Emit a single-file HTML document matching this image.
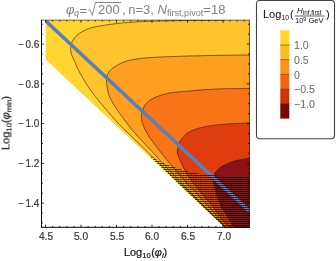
<!DOCTYPE html><html><head><meta charset="utf-8"><style>

html,body{margin:0;padding:0;background:#fff;}
body{width:336px;height:261px;position:relative;overflow:hidden;font-family:"Liberation Sans",sans-serif;}
.t{position:absolute;white-space:nowrap;line-height:1;will-change:transform;}
.tk{font-size:10.2px;color:#383838;-webkit-text-stroke:0.2px #383838;}
.lg{font-size:10.6px;color:#666;}
.ti{font-size:13px;color:#808080;}
i{font-style:italic;}
.sub{font-size:70%;position:relative;top:0.22em;}

</style></head><body>
<svg width="336" height="261" viewBox="0 0 336 261" style="position:absolute;left:0;top:0">
<defs>
<clipPath id="dom"><polygon points="45.70,20.10 249.80,20.10 249.80,227.80 225.00,227.80 45.70,59.40"/></clipPath>
<clipPath id="hat"><polygon points="149,155.5 160,161.5 166,164.3 177.4,168.3 187.4,171.4 199,173.8 219.5,175.8 221,176.8 249.8,176.8 249.8,228 224,228"/></clipPath>
<pattern id="hp" width="5" height="2" patternUnits="userSpaceOnUse"><rect x="0" y="1" width="5" height="1" fill="#000" fill-opacity="0.38"/><rect x="0" y="1" width="1.8" height="1" fill="#000" fill-opacity="0.64"/><rect x="2.5" y="1" width="1.8" height="1" fill="#000" fill-opacity="0.64"/></pattern>
</defs>
<g clip-path="url(#dom)">
<rect x="40" y="15" width="215" height="215" fill="#FFD532"/>
<path d="M225.00,20.10 C218.33,20.17 195.00,20.37 185.00,20.50 C175.00,20.63 170.83,20.77 165.00,20.90 C159.17,21.03 154.17,21.17 150.00,21.30 C145.83,21.43 143.33,21.53 140.00,21.70 C136.67,21.87 133.33,22.05 130.00,22.30 C126.67,22.55 123.33,22.85 120.00,23.20 C116.67,23.55 113.33,23.93 110.00,24.40 C106.67,24.87 102.83,25.50 100.00,26.00 C97.17,26.50 95.02,26.90 93.00,27.40 C90.98,27.90 90.10,28.07 87.90,29.00 C85.70,29.93 82.02,31.53 79.80,33.00 C77.58,34.47 75.97,36.13 74.60,37.80 C73.23,39.47 72.27,41.09 71.60,43.00 C70.93,44.91 70.55,47.17 70.60,49.25 C70.65,51.33 71.13,53.24 71.90,55.50 C72.67,57.76 74.03,60.22 75.20,62.80 C76.37,65.38 76.77,67.04 78.90,71.00 C81.03,74.96 84.98,81.97 88.00,86.55 C91.02,91.13 94.33,95.07 97.00,98.49 C99.67,101.90 101.50,104.07 104.00,107.05 C106.50,110.02 109.50,113.50 112.00,116.35 C114.50,119.19 116.67,121.65 119.00,124.11 C121.33,126.56 123.33,128.45 126.00,131.07 C128.67,133.69 131.83,136.74 135.00,139.81 C138.17,142.87 141.67,146.24 145.00,149.48 C148.33,152.72 150.83,155.18 155.00,159.25 C159.17,163.33 164.17,168.21 170.00,173.91 C175.83,179.62 183.33,187.00 190.00,193.46 C196.67,199.93 204.00,206.93 210.00,212.71 C216.00,218.48 223.33,225.54 226.00,228.11 L256.00,268.11 L400,400 L400,-50 L225.00,-50 Z" fill="#FFC32D" stroke="none"/>
<path d="M249.80,55.00 C244.00,55.07 226.63,55.18 215.00,55.40 C203.37,55.62 190.55,55.95 180.00,56.30 C169.45,56.65 158.87,57.05 151.70,57.50 C144.53,57.95 141.17,58.40 137.00,59.00 C132.83,59.60 129.73,60.20 126.70,61.10 C123.67,62.00 121.33,63.05 118.80,64.40 C116.27,65.75 113.37,67.52 111.50,69.20 C109.63,70.88 108.43,72.58 107.60,74.50 C106.77,76.42 106.55,78.47 106.50,80.70 C106.45,82.93 106.87,85.41 107.30,87.90 C107.73,90.39 108.15,93.05 109.10,95.63 C110.05,98.21 111.22,100.40 113.00,103.38 C114.78,106.37 117.98,110.94 119.80,113.56 C121.62,116.18 122.52,117.22 123.90,119.10 C125.28,120.98 126.92,123.26 128.10,124.84 C129.28,126.41 128.92,126.14 131.00,128.56 C133.08,130.98 137.92,136.41 140.60,139.36 C143.28,142.30 144.62,143.59 147.10,146.25 C149.58,148.91 153.02,152.59 155.50,155.32 C157.98,158.05 159.58,159.98 162.00,162.61 C164.42,165.25 167.00,167.94 170.00,171.11 C173.00,174.29 176.67,178.20 180.00,181.69 C183.33,185.18 186.67,188.67 190.00,192.06 C193.33,195.45 196.67,198.71 200.00,202.03 C203.33,205.36 205.50,207.56 210.00,212.01 C214.50,216.46 224.17,225.95 227.00,228.74 L257.00,268.74 L400,400 L400,-50 L249.80,-50 Z" fill="#FF9F21" stroke="none"/>
<path d="M249.80,88.40 C244.00,88.52 226.63,88.53 215.00,89.10 C203.37,89.67 188.12,91.02 180.00,91.80 C171.88,92.58 170.28,92.90 166.25,93.80 C162.22,94.70 158.76,95.95 155.80,97.20 C152.84,98.45 150.55,99.57 148.50,101.30 C146.45,103.03 144.68,105.32 143.50,107.60 C142.32,109.88 141.68,112.85 141.40,115.00 C141.12,117.15 141.45,118.67 141.80,120.50 C142.15,122.33 142.80,124.17 143.50,126.00 C144.20,127.83 145.08,129.75 146.00,131.50 C146.92,133.25 147.92,134.83 149.00,136.50 C150.08,138.17 151.42,140.00 152.50,141.50 C153.58,143.00 153.62,143.05 155.50,145.50 C157.38,147.95 161.42,153.22 163.80,156.20 C166.18,159.18 167.10,160.18 169.80,163.40 C172.50,166.62 176.63,171.65 180.00,175.50 C183.37,179.35 187.33,183.67 190.00,186.50 C192.67,189.33 193.83,190.17 196.00,192.50 C198.17,194.83 200.33,197.58 203.00,200.50 C205.67,203.42 209.33,206.85 212.00,210.00 C214.67,213.15 216.75,216.40 219.00,219.40 C221.25,222.40 224.42,226.57 225.50,228.00 L255.50,268.00 L400,400 L400,-50 L249.80,-50 Z" fill="#F87417" stroke="none"/>
<path d="M249.80,122.90 C245.60,123.12 232.28,123.52 224.60,124.20 C216.92,124.88 209.67,125.67 203.70,127.00 C197.73,128.33 192.70,129.87 188.80,132.20 C184.90,134.53 182.20,137.95 180.30,141.00 C178.40,144.05 177.75,148.08 177.40,150.50 C177.05,152.92 177.73,153.83 178.20,155.50 C178.67,157.17 179.38,158.62 180.20,160.50 C181.02,162.38 181.82,164.35 183.10,166.80 C184.38,169.25 186.10,172.40 187.90,175.20 C189.70,178.00 191.92,180.97 193.90,183.60 C195.88,186.23 197.95,188.68 199.80,191.00 C201.65,193.32 202.88,195.03 205.00,197.50 C207.12,199.97 210.27,203.00 212.50,205.80 C214.73,208.60 216.35,211.43 218.40,214.30 C220.45,217.17 222.98,220.72 224.80,223.00 C226.62,225.28 228.55,227.17 229.30,228.00 L259.30,268.00 L400,400 L400,-50 L249.80,-50 Z" fill="#E03D0E" stroke="none"/>
<path d="M249.80,158.00 C247.80,158.38 241.18,159.52 237.80,160.30 C234.42,161.08 232.08,161.72 229.50,162.70 C226.92,163.68 224.28,165.02 222.30,166.20 C220.32,167.38 218.88,168.50 217.60,169.80 C216.32,171.10 215.28,172.63 214.60,174.00 C213.92,175.37 213.62,176.58 213.50,178.00 C213.38,179.42 213.62,180.53 213.90,182.50 C214.18,184.47 214.62,187.47 215.20,189.80 C215.78,192.13 216.27,193.55 217.40,196.50 C218.53,199.45 220.27,204.08 222.00,207.50 C223.73,210.92 225.80,213.58 227.80,217.00 C229.80,220.42 232.97,226.17 234.00,228.00 L264.00,268.00 L400,400 L400,-50 L249.80,-50 Z" fill="#8A1216" stroke="none"/>
<path d="M225.00,20.10 C218.33,20.17 195.00,20.37 185.00,20.50 C175.00,20.63 170.83,20.77 165.00,20.90 C159.17,21.03 154.17,21.17 150.00,21.30 C145.83,21.43 143.33,21.53 140.00,21.70 C136.67,21.87 133.33,22.05 130.00,22.30 C126.67,22.55 123.33,22.85 120.00,23.20 C116.67,23.55 113.33,23.93 110.00,24.40 C106.67,24.87 102.83,25.50 100.00,26.00 C97.17,26.50 95.02,26.90 93.00,27.40 C90.98,27.90 90.10,28.07 87.90,29.00 C85.70,29.93 82.02,31.53 79.80,33.00 C77.58,34.47 75.97,36.13 74.60,37.80 C73.23,39.47 72.27,41.09 71.60,43.00 C70.93,44.91 70.55,47.17 70.60,49.25 C70.65,51.33 71.13,53.24 71.90,55.50 C72.67,57.76 74.03,60.22 75.20,62.80 C76.37,65.38 76.77,67.04 78.90,71.00 C81.03,74.96 84.98,81.97 88.00,86.55 C91.02,91.13 94.33,95.07 97.00,98.49 C99.67,101.90 101.50,104.07 104.00,107.05 C106.50,110.02 109.50,113.50 112.00,116.35 C114.50,119.19 116.67,121.65 119.00,124.11 C121.33,126.56 123.33,128.45 126.00,131.07 C128.67,133.69 131.83,136.74 135.00,139.81 C138.17,142.87 141.67,146.24 145.00,149.48 C148.33,152.72 150.83,155.18 155.00,159.25 C159.17,163.33 164.17,168.21 170.00,173.91 C175.83,179.62 183.33,187.00 190.00,193.46 C196.67,199.93 204.00,206.93 210.00,212.71 C216.00,218.48 223.33,225.54 226.00,228.11" fill="none" stroke="#2a1a05" stroke-opacity="0.85" stroke-width="0.7"/>
<path d="M249.80,55.00 C244.00,55.07 226.63,55.18 215.00,55.40 C203.37,55.62 190.55,55.95 180.00,56.30 C169.45,56.65 158.87,57.05 151.70,57.50 C144.53,57.95 141.17,58.40 137.00,59.00 C132.83,59.60 129.73,60.20 126.70,61.10 C123.67,62.00 121.33,63.05 118.80,64.40 C116.27,65.75 113.37,67.52 111.50,69.20 C109.63,70.88 108.43,72.58 107.60,74.50 C106.77,76.42 106.55,78.47 106.50,80.70 C106.45,82.93 106.87,85.41 107.30,87.90 C107.73,90.39 108.15,93.05 109.10,95.63 C110.05,98.21 111.22,100.40 113.00,103.38 C114.78,106.37 117.98,110.94 119.80,113.56 C121.62,116.18 122.52,117.22 123.90,119.10 C125.28,120.98 126.92,123.26 128.10,124.84 C129.28,126.41 128.92,126.14 131.00,128.56 C133.08,130.98 137.92,136.41 140.60,139.36 C143.28,142.30 144.62,143.59 147.10,146.25 C149.58,148.91 153.02,152.59 155.50,155.32 C157.98,158.05 159.58,159.98 162.00,162.61 C164.42,165.25 167.00,167.94 170.00,171.11 C173.00,174.29 176.67,178.20 180.00,181.69 C183.33,185.18 186.67,188.67 190.00,192.06 C193.33,195.45 196.67,198.71 200.00,202.03 C203.33,205.36 205.50,207.56 210.00,212.01 C214.50,216.46 224.17,225.95 227.00,228.74" fill="none" stroke="#2a1a05" stroke-opacity="0.85" stroke-width="0.7"/>
<path d="M249.80,88.40 C244.00,88.52 226.63,88.53 215.00,89.10 C203.37,89.67 188.12,91.02 180.00,91.80 C171.88,92.58 170.28,92.90 166.25,93.80 C162.22,94.70 158.76,95.95 155.80,97.20 C152.84,98.45 150.55,99.57 148.50,101.30 C146.45,103.03 144.68,105.32 143.50,107.60 C142.32,109.88 141.68,112.85 141.40,115.00 C141.12,117.15 141.45,118.67 141.80,120.50 C142.15,122.33 142.80,124.17 143.50,126.00 C144.20,127.83 145.08,129.75 146.00,131.50 C146.92,133.25 147.92,134.83 149.00,136.50 C150.08,138.17 151.42,140.00 152.50,141.50 C153.58,143.00 153.62,143.05 155.50,145.50 C157.38,147.95 161.42,153.22 163.80,156.20 C166.18,159.18 167.10,160.18 169.80,163.40 C172.50,166.62 176.63,171.65 180.00,175.50 C183.37,179.35 187.33,183.67 190.00,186.50 C192.67,189.33 193.83,190.17 196.00,192.50 C198.17,194.83 200.33,197.58 203.00,200.50 C205.67,203.42 209.33,206.85 212.00,210.00 C214.67,213.15 216.75,216.40 219.00,219.40 C221.25,222.40 224.42,226.57 225.50,228.00" fill="none" stroke="#2a1a05" stroke-opacity="0.85" stroke-width="0.7"/>
<path d="M249.80,122.90 C245.60,123.12 232.28,123.52 224.60,124.20 C216.92,124.88 209.67,125.67 203.70,127.00 C197.73,128.33 192.70,129.87 188.80,132.20 C184.90,134.53 182.20,137.95 180.30,141.00 C178.40,144.05 177.75,148.08 177.40,150.50 C177.05,152.92 177.73,153.83 178.20,155.50 C178.67,157.17 179.38,158.62 180.20,160.50 C181.02,162.38 181.82,164.35 183.10,166.80 C184.38,169.25 186.10,172.40 187.90,175.20 C189.70,178.00 191.92,180.97 193.90,183.60 C195.88,186.23 197.95,188.68 199.80,191.00 C201.65,193.32 202.88,195.03 205.00,197.50 C207.12,199.97 210.27,203.00 212.50,205.80 C214.73,208.60 216.35,211.43 218.40,214.30 C220.45,217.17 222.98,220.72 224.80,223.00 C226.62,225.28 228.55,227.17 229.30,228.00" fill="none" stroke="#2a1a05" stroke-opacity="0.85" stroke-width="0.7"/>
<path d="M249.80,158.00 C247.80,158.38 241.18,159.52 237.80,160.30 C234.42,161.08 232.08,161.72 229.50,162.70 C226.92,163.68 224.28,165.02 222.30,166.20 C220.32,167.38 218.88,168.50 217.60,169.80 C216.32,171.10 215.28,172.63 214.60,174.00 C213.92,175.37 213.62,176.58 213.50,178.00 C213.38,179.42 213.62,180.53 213.90,182.50 C214.18,184.47 214.62,187.47 215.20,189.80 C215.78,192.13 216.27,193.55 217.40,196.50 C218.53,199.45 220.27,204.08 222.00,207.50 C223.73,210.92 225.80,213.58 227.80,217.00 C229.80,220.42 232.97,226.17 234.00,228.00" fill="none" stroke="#2a1a05" stroke-opacity="0.85" stroke-width="0.7"/>
<line x1="44.7" y1="20" x2="250" y2="211.7" stroke="#5A80B9" stroke-width="3.6"/>
<g clip-path="url(#hat)"><rect x="140" y="150" width="120" height="80" fill="url(#hp)"/></g>
</g>
<g stroke="#000" fill="none">
<line x1="41.50" y1="19.70" x2="41.50" y2="227.80" stroke-width="1"/>
<line x1="41.50" y1="227.30" x2="249.80" y2="227.30" stroke-width="1"/>
<line x1="41.50" y1="20.10" x2="249.80" y2="20.10" stroke-width="0.7" stroke-opacity="0.75"/>
<line x1="249.40" y1="20.10" x2="249.40" y2="227.30" stroke-width="0.7" stroke-opacity="0.6"/>
</g>
<g stroke="#000" stroke-width="0.8"><line x1="45.50" y1="227.30" x2="45.50" y2="224.70"/><line x1="45.50" y1="20.10" x2="45.50" y2="22.70"/><line x1="52.60" y1="227.30" x2="52.60" y2="225.90"/><line x1="52.60" y1="20.10" x2="52.60" y2="21.50"/><line x1="59.70" y1="227.30" x2="59.70" y2="225.90"/><line x1="59.70" y1="20.10" x2="59.70" y2="21.50"/><line x1="66.80" y1="227.30" x2="66.80" y2="225.90"/><line x1="66.80" y1="20.10" x2="66.80" y2="21.50"/><line x1="73.90" y1="227.30" x2="73.90" y2="225.90"/><line x1="73.90" y1="20.10" x2="73.90" y2="21.50"/><line x1="81.00" y1="227.30" x2="81.00" y2="224.70"/><line x1="81.00" y1="20.10" x2="81.00" y2="22.70"/><line x1="88.10" y1="227.30" x2="88.10" y2="225.90"/><line x1="88.10" y1="20.10" x2="88.10" y2="21.50"/><line x1="95.20" y1="227.30" x2="95.20" y2="225.90"/><line x1="95.20" y1="20.10" x2="95.20" y2="21.50"/><line x1="102.30" y1="227.30" x2="102.30" y2="225.90"/><line x1="102.30" y1="20.10" x2="102.30" y2="21.50"/><line x1="109.40" y1="227.30" x2="109.40" y2="225.90"/><line x1="109.40" y1="20.10" x2="109.40" y2="21.50"/><line x1="116.50" y1="227.30" x2="116.50" y2="224.70"/><line x1="116.50" y1="20.10" x2="116.50" y2="22.70"/><line x1="123.60" y1="227.30" x2="123.60" y2="225.90"/><line x1="123.60" y1="20.10" x2="123.60" y2="21.50"/><line x1="130.70" y1="227.30" x2="130.70" y2="225.90"/><line x1="130.70" y1="20.10" x2="130.70" y2="21.50"/><line x1="137.80" y1="227.30" x2="137.80" y2="225.90"/><line x1="137.80" y1="20.10" x2="137.80" y2="21.50"/><line x1="144.90" y1="227.30" x2="144.90" y2="225.90"/><line x1="144.90" y1="20.10" x2="144.90" y2="21.50"/><line x1="152.00" y1="227.30" x2="152.00" y2="224.70"/><line x1="152.00" y1="20.10" x2="152.00" y2="22.70"/><line x1="159.10" y1="227.30" x2="159.10" y2="225.90"/><line x1="159.10" y1="20.10" x2="159.10" y2="21.50"/><line x1="166.20" y1="227.30" x2="166.20" y2="225.90"/><line x1="166.20" y1="20.10" x2="166.20" y2="21.50"/><line x1="173.30" y1="227.30" x2="173.30" y2="225.90"/><line x1="173.30" y1="20.10" x2="173.30" y2="21.50"/><line x1="180.40" y1="227.30" x2="180.40" y2="225.90"/><line x1="180.40" y1="20.10" x2="180.40" y2="21.50"/><line x1="187.50" y1="227.30" x2="187.50" y2="224.70"/><line x1="187.50" y1="20.10" x2="187.50" y2="22.70"/><line x1="194.60" y1="227.30" x2="194.60" y2="225.90"/><line x1="194.60" y1="20.10" x2="194.60" y2="21.50"/><line x1="201.70" y1="227.30" x2="201.70" y2="225.90"/><line x1="201.70" y1="20.10" x2="201.70" y2="21.50"/><line x1="208.80" y1="227.30" x2="208.80" y2="225.90"/><line x1="208.80" y1="20.10" x2="208.80" y2="21.50"/><line x1="215.90" y1="227.30" x2="215.90" y2="225.90"/><line x1="215.90" y1="20.10" x2="215.90" y2="21.50"/><line x1="223.00" y1="227.30" x2="223.00" y2="224.70"/><line x1="223.00" y1="20.10" x2="223.00" y2="22.70"/><line x1="230.10" y1="227.30" x2="230.10" y2="225.90"/><line x1="230.10" y1="20.10" x2="230.10" y2="21.50"/><line x1="237.20" y1="227.30" x2="237.20" y2="225.90"/><line x1="237.20" y1="20.10" x2="237.20" y2="21.50"/><line x1="244.30" y1="227.30" x2="244.30" y2="225.90"/><line x1="244.30" y1="20.10" x2="244.30" y2="21.50"/><line x1="41.50" y1="24.23" x2="42.90" y2="24.23"/><line x1="249.40" y1="24.23" x2="248.00" y2="24.23"/><line x1="41.50" y1="34.16" x2="42.90" y2="34.16"/><line x1="249.40" y1="34.16" x2="248.00" y2="34.16"/><line x1="41.50" y1="44.10" x2="44.10" y2="44.10"/><line x1="249.40" y1="44.10" x2="246.80" y2="44.10"/><line x1="41.50" y1="54.04" x2="42.90" y2="54.04"/><line x1="249.40" y1="54.04" x2="248.00" y2="54.04"/><line x1="41.50" y1="63.97" x2="42.90" y2="63.97"/><line x1="249.40" y1="63.97" x2="248.00" y2="63.97"/><line x1="41.50" y1="73.91" x2="42.90" y2="73.91"/><line x1="249.40" y1="73.91" x2="248.00" y2="73.91"/><line x1="41.50" y1="83.85" x2="44.10" y2="83.85"/><line x1="249.40" y1="83.85" x2="246.80" y2="83.85"/><line x1="41.50" y1="93.79" x2="42.90" y2="93.79"/><line x1="249.40" y1="93.79" x2="248.00" y2="93.79"/><line x1="41.50" y1="103.73" x2="42.90" y2="103.73"/><line x1="249.40" y1="103.73" x2="248.00" y2="103.73"/><line x1="41.50" y1="113.66" x2="42.90" y2="113.66"/><line x1="249.40" y1="113.66" x2="248.00" y2="113.66"/><line x1="41.50" y1="123.60" x2="44.10" y2="123.60"/><line x1="249.40" y1="123.60" x2="246.80" y2="123.60"/><line x1="41.50" y1="133.54" x2="42.90" y2="133.54"/><line x1="249.40" y1="133.54" x2="248.00" y2="133.54"/><line x1="41.50" y1="143.48" x2="42.90" y2="143.48"/><line x1="249.40" y1="143.48" x2="248.00" y2="143.48"/><line x1="41.50" y1="153.41" x2="42.90" y2="153.41"/><line x1="249.40" y1="153.41" x2="248.00" y2="153.41"/><line x1="41.50" y1="163.35" x2="44.10" y2="163.35"/><line x1="249.40" y1="163.35" x2="246.80" y2="163.35"/><line x1="41.50" y1="173.29" x2="42.90" y2="173.29"/><line x1="249.40" y1="173.29" x2="248.00" y2="173.29"/><line x1="41.50" y1="183.22" x2="42.90" y2="183.22"/><line x1="249.40" y1="183.22" x2="248.00" y2="183.22"/><line x1="41.50" y1="193.16" x2="42.90" y2="193.16"/><line x1="249.40" y1="193.16" x2="248.00" y2="193.16"/><line x1="41.50" y1="203.10" x2="44.10" y2="203.10"/><line x1="249.40" y1="203.10" x2="246.80" y2="203.10"/><line x1="41.50" y1="213.04" x2="42.90" y2="213.04"/><line x1="249.40" y1="213.04" x2="248.00" y2="213.04"/><line x1="41.50" y1="222.97" x2="42.90" y2="222.97"/><line x1="249.40" y1="222.97" x2="248.00" y2="222.97"/></g>
<rect x="256.5" y="0.5" width="78" height="138.3" rx="3.2" ry="3.2" fill="#fff" stroke="#444" stroke-width="1.1"/>
<rect x="280.3" y="30.30" width="9" height="14.80" fill="#FFD42E"/>
<rect x="280.3" y="45.00" width="9" height="14.80" fill="#FFBA24"/>
<rect x="280.3" y="59.70" width="9" height="14.80" fill="#FF9418"/>
<rect x="280.3" y="74.40" width="9" height="14.80" fill="#F5650F"/>
<rect x="280.3" y="89.10" width="9" height="14.80" fill="#D23208"/>
<rect x="280.3" y="103.80" width="9" height="14.80" fill="#7C0606"/>
<line x1="280.3" y1="45.00" x2="289.3" y2="45.00" stroke="#4a3a10" stroke-opacity="0.75" stroke-width="0.8"/><line x1="289.3" y1="45.00" x2="292" y2="45.00" stroke="#999" stroke-opacity="0.45" stroke-width="0.7"/>
<line x1="280.3" y1="59.70" x2="289.3" y2="59.70" stroke="#4a3a10" stroke-opacity="0.75" stroke-width="0.8"/><line x1="289.3" y1="59.70" x2="292" y2="59.70" stroke="#999" stroke-opacity="0.45" stroke-width="0.7"/>
<line x1="280.3" y1="74.40" x2="289.3" y2="74.40" stroke="#4a3a10" stroke-opacity="0.75" stroke-width="0.8"/><line x1="289.3" y1="74.40" x2="292" y2="74.40" stroke="#999" stroke-opacity="0.45" stroke-width="0.7"/>
<line x1="280.3" y1="89.10" x2="289.3" y2="89.10" stroke="#4a3a10" stroke-opacity="0.75" stroke-width="0.8"/><line x1="289.3" y1="89.10" x2="292" y2="89.10" stroke="#999" stroke-opacity="0.45" stroke-width="0.7"/>
<line x1="280.3" y1="103.80" x2="289.3" y2="103.80" stroke="#4a3a10" stroke-opacity="0.75" stroke-width="0.8"/><line x1="289.3" y1="103.80" x2="292" y2="103.80" stroke="#999" stroke-opacity="0.45" stroke-width="0.7"/>
<line x1="294.9" y1="16.0" x2="324.6" y2="16.0" stroke="#222" stroke-width="0.7"/>
<path d="M88.4,10.4 L89.9,9.7 L92.4,15.4 L95.4,2.5 L121.2,2.5" fill="none" stroke="#7a7a7a" stroke-width="0.9"/>
</svg>
<div class="t tk" style="left:30.5px;top:231.9px;width:30px;text-align:center">4.5</div>
<div class="t tk" style="left:66.0px;top:231.9px;width:30px;text-align:center">5.0</div>
<div class="t tk" style="left:101.5px;top:231.9px;width:30px;text-align:center">5.5</div>
<div class="t tk" style="left:137.0px;top:231.9px;width:30px;text-align:center">6.0</div>
<div class="t tk" style="left:172.5px;top:231.9px;width:30px;text-align:center">6.5</div>
<div class="t tk" style="left:208.8px;top:231.9px;width:30px;text-align:center">7.0</div>
<div class="t tk" style="left:0px;top:39.8px;width:39.3px;text-align:right;font-size:10px"><span style="margin-right:1.3px">&minus;</span><span>0.6</span></div>
<div class="t tk" style="left:0px;top:79.6px;width:39.3px;text-align:right;font-size:10px"><span style="margin-right:1.3px">&minus;</span><span>0.8</span></div>
<div class="t tk" style="left:0px;top:119.3px;width:39.3px;text-align:right;font-size:10px"><span style="margin-right:1.3px">&minus;</span><span>1.0</span></div>
<div class="t tk" style="left:0px;top:159.0px;width:39.3px;text-align:right;font-size:10px"><span style="margin-right:1.3px">&minus;</span><span>1.2</span></div>
<div class="t tk" style="left:0px;top:198.8px;width:39.3px;text-align:right;font-size:10px"><span style="margin-right:1.3px">&minus;</span><span>1.4</span></div>
<div class="t" style="left:123.6px;top:246.6px;font-size:10.9px;color:#161616;-webkit-text-stroke:0.22px #161616">Log<span class="sub" style="margin-left:0px;margin-right:0.5px">10</span>(<i>&phi;</i><span class="sub"><i>i</i></span>)</div>
<div class="t" style="left:6.4px;top:123.4px;font-size:11px;color:#161616;-webkit-text-stroke:0.22px #161616;transform:translate(-50%,-50%) rotate(-90deg);">Log<span class="sub">10</span>(<i>&phi;</i><span class="sub">min</span>)</div>
<div class="t ti" style="left:66px;top:3.4px;"><i>&phi;</i><span class="sub" style="top:0.2em;margin-left:-0.5px;margin-right:0.5px"><i>q</i></span><span style="position:relative;top:0.9px">=</span><span style="display:inline-block;width:8.2px"></span>&thinsp;200&thinsp;<span style="margin-left:-0.1px">,</span><span style="margin-left:2.5px">n=3, </span><i>N</i><span class="sub">first,pivot</span>=18</div>
<div class="t" style="left:263.2px;top:9.2px;font-size:11px;color:#0a0a0a">Log<span class="sub" style="font-size:62%;top:0.3em;margin-left:0.2px">10</span></div>
<div class="t" style="left:289.6px;top:9px;font-size:11px;color:#111">(</div>
<div class="t" style="left:325.6px;top:9px;font-size:11px;color:#111">)</div>
<div class="t" style="left:297.2px;top:6.9px;font-size:8px;color:#111"><i>H</i><span style="font-size:6.3px;position:relative;top:1.5px;left:0.2px">inf,first</span></div>
<div class="t" style="left:295.4px;top:17.3px;font-size:7.5px;color:#111">10<span style="font-size:5.4px;position:relative;top:-2.4px">9</span> GeV</div>
<div class="t lg" style="left:293.6px;top:39.9px">1.0</div>
<div class="t lg" style="left:293.6px;top:54.7px">0.5</div>
<div class="t lg" style="left:293.6px;top:69.6px">0</div>
<div class="t lg" style="left:293.6px;top:84.4px">&minus;0.5</div>
<div class="t lg" style="left:293.6px;top:99.2px">&minus;1.0</div>
</body></html>
